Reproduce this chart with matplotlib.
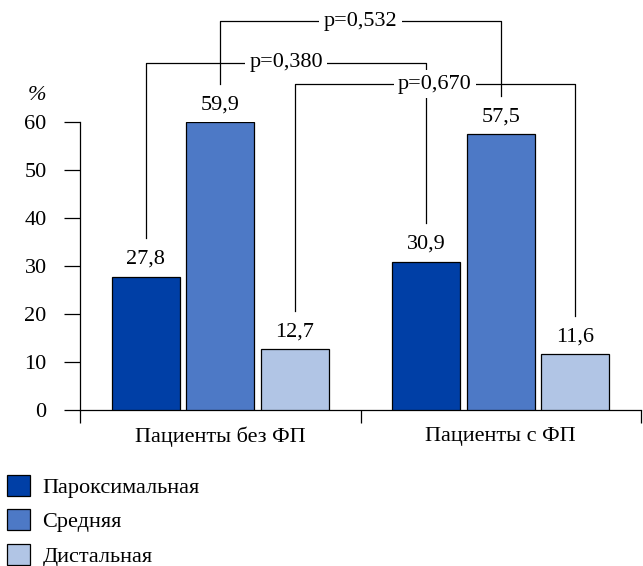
import matplotlib.pyplot as plt
from matplotlib.patches import Patch
import numpy as np

plt.rcParams['font.family'] = ['Liberation Serif', 'DejaVu Serif']

groups = ['Пациенты без ФП', 'Пациенты с ФП']
series = ['Пароксимальная', 'Средняя', 'Дистальная']
values = {
    'Пароксимальная': [27.8, 30.9],
    'Средняя': [59.9, 57.5],
    'Дистальная': [12.7, 11.6],
}
colors = ['#003fa6', '#4d79c6', '#b1c5e5']

# p-value brackets: (series a, group a), (series b, group b), level, text
brackets = [
    ((1, 0), (1, 1), 81.0, 'p=0,532'),
    ((0, 0), (0, 1), 72.3, 'p=0,380'),
    ((2, 0), (2, 1), 67.9, 'p=0,670'),
]

FS = 16

fig = plt.figure(figsize=(6.43, 5.66), dpi=100)
ax = fig.add_axes([80 / 643, 1 - 410 / 566, 561 / 643, 288 / 566])

centers = np.arange(len(groups)) + 0.5
step = 0.265
width = 0.242
xpos = {}
for i, s in enumerate(series):
    x = centers + (i - 1) * step
    ax.bar(x, values[s], width=width, color=colors[i], edgecolor='black',
           linewidth=0.9, label=s, zorder=3)
    for j, v in enumerate(values[s]):
        xpos[(i, j)] = x[j]
        ax.text(x[j], v + 1.6, f'{v:.1f}'.replace('.', ','), ha='center',
                va='bottom', fontsize=FS)

for (a, b, level, txt) in brackets:
    xa, xb = xpos[a], xpos[b]
    ya = values[series[a[0]]][a[1]] + 8
    yb = values[series[b[0]]][b[1]] + 8
    ax.plot([xa, xa, xb, xb], [ya, level, level, yb], color='black',
            linewidth=0.9, clip_on=False, zorder=4)
    ax.text((xa + xb) / 2, level, txt, ha='center', va='center', fontsize=FS,
            bbox=dict(facecolor='white', edgecolor='none', pad=3), zorder=5)

ax.set_xlim(0, 2)
ax.set_ylim(0, 60)
ax.spines['top'].set_visible(False)
ax.spines['right'].set_visible(False)
ax.set_yticks(range(0, 61, 10))
ax.tick_params(axis='y', direction='out', length=11.5, width=0.9, pad=12.5,
               labelsize=FS)
ax.set_xticks([0, 1, 2])
ax.set_xticklabels([])
ax.tick_params(axis='x', which='major', direction='out', length=9, width=0.9)
ax.set_xticks(centers, minor=True)
ax.set_xticklabels(groups, minor=True, fontsize=FS)
ax.tick_params(axis='x', which='minor', length=0, pad=12)
for sp in ax.spines.values():
    sp.set_linewidth(0.9)

fig.text(37 / 643, 1 - 95 / 566, '%', ha='center', va='center', fontsize=FS,
         style='italic')

handles = [Patch(facecolor=c, edgecolor='black', linewidth=0.9) for c in colors]
fig.legend(handles, series, loc='upper left', bbox_to_anchor=(7 / 643, 1 - 475 / 566),
           frameon=False, fontsize=FS, handlelength=1.05, handleheight=1.05,
           handletextpad=0.55, labelspacing=0.52, borderpad=0, borderaxespad=0)

fig.savefig('out.png', dpi=100)
